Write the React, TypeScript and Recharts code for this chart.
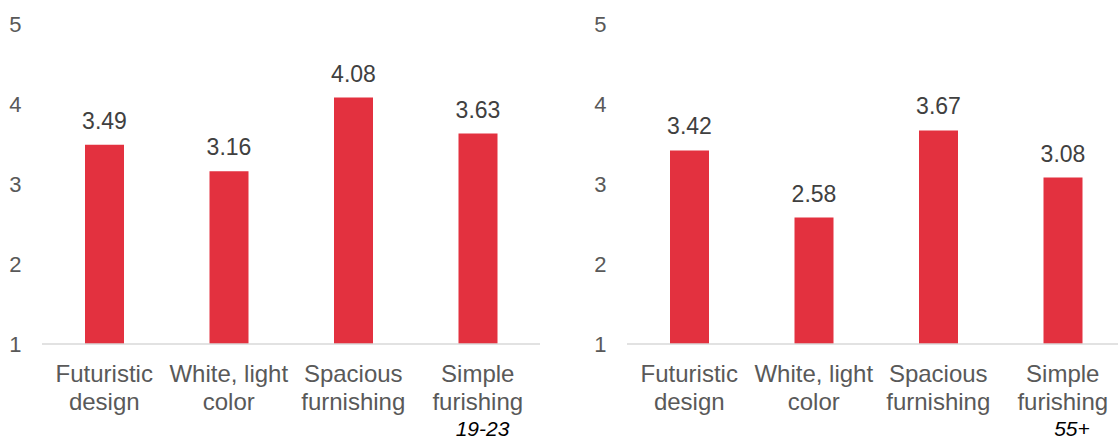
import React from 'react';
import { BarChart, Bar, XAxis, YAxis, LabelList } from 'recharts';

const categories = ['Futuristic\ndesign', 'White, light\ncolor', 'Spacious\nfurnishing', 'Simple\nfurishing'];
const youngScores = [3.49, 3.16, 4.08, 3.63];
const seniorScores = [3.42, 2.58, 3.67, 3.08];
const scoreTicks = [1, 2, 3, 4, 5];

const FONT = '"Liberation Sans", Arial, sans-serif';
const BAR_RED = '#E3313F';

// two-line category label under each bar
const renderCategoryTick = (props: any) => {
    const { x, payload } = props;
    const lines = String(payload.value).split('\n');
    return (
        <text x={x} y={382} textAnchor="middle" fill="#595959" fontSize={24} fontFamily={FONT}>
            {lines.map((line, i) => (
                <tspan key={i} x={x} dy={i === 0 ? 0 : 28}>
                    {line}
                </tspan>
            ))}
        </text>
    );
};

const AgeGroupChart: React.FC<{ values: number[]; group: string; left: number; groupX: number }> = ({
    values,
    group,
    left,
    groupX,
}) => {
    const data = categories.map((name, i) => ({ name, score: values[i] }));
    return (
        <div style={{ position: 'absolute', left, top: 0, width: 560, height: 440 }}>
            <BarChart width={560} height={440} data={data} margin={{ top: 24, right: 20, left: 0, bottom: 0 }}>
                <XAxis
                    dataKey="name"
                    height={96}
                    axisLine={{ stroke: '#D9D9D9', strokeWidth: 1.5 }}
                    tickLine={false}
                    tick={renderCategoryTick}
                    interval={0}
                />
                <YAxis
                    width={42}
                    domain={[1, 5]}
                    ticks={scoreTicks}
                    axisLine={false}
                    tickLine={false}
                    tickMargin={14.5}
                    tick={{ fill: '#595959', fontSize: 22, fontFamily: FONT }}
                />
                <Bar dataKey="score" fill={BAR_RED} barSize={39} isAnimationActive={false}>
                    <LabelList
                        dataKey="score"
                        position="top"
                        offset={16}
                        fill="#404040"
                        fontSize={23}
                        fontFamily={FONT}
                        formatter={(v: any) => Number(v).toFixed(2)}
                    />
                </Bar>
            </BarChart>
            <div
                style={{
                    position: 'absolute',
                    left: groupX - 60,
                    width: 120,
                    top: 419,
                    textAlign: 'center',
                    fontSize: 21,
                    fontStyle: 'italic',
                    color: '#000',
                    fontFamily: FONT,
                    lineHeight: '20px',
                }}
            >
                {group}
            </div>
        </div>
    );
};

export default function App() {
    return (
        <div
            style={{
                position: 'fixed',
                left: 0,
                top: 0,
                width: 1118,
                height: 440,
                overflow: 'hidden',
                background: '#fff',
            }}
        >
            <AgeGroupChart values={youngScores} group="19-23" left={0} groupX={482.5} />
            <AgeGroupChart values={seniorScores} group="55+" left={585} groupX={487} />
        </div>
    );
}
